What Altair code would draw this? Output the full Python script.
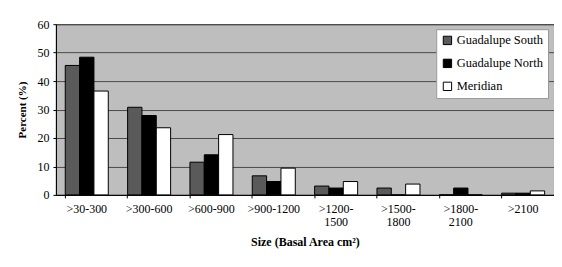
import altair as alt
import pandas as pd

categories = [">30-300", ">300-600", ">600-900", ">900-1200", ">1200-1500",
              ">1500-1800", ">1800-2100", ">2100"]
series = ["Guadalupe South", "Guadalupe North", "Meridian"]
guadalupe_south = [45.5, 30.8, 11.5, 6.7, 3.1, 2.4, 0.0, 0.6]
guadalupe_north = [48.4, 27.9, 14.1, 4.7, 2.4, 0.0, 2.4, 0.6]
meridian = [36.5, 23.6, 21.2, 9.4, 4.7, 3.8, 0.0, 1.4]
colors = ["#5a5a5a", "#000000", "#ffffff"]

rows = []
for s, vals in zip(series, [guadalupe_south, guadalupe_north, meridian]):
    for c, v in zip(categories, vals):
        rows.append({"Size": c, "Site": s, "Percent": v})
df = pd.DataFrame(rows)

font = "Liberation Serif"

chart = alt.Chart(df).mark_bar(stroke="black", strokeWidth=1).encode(
    x=alt.X("Size:N", sort=categories,
            scale=alt.Scale(paddingInner=0.31, paddingOuter=0.15),
            axis=alt.Axis(title="Size (Basal Area cm²)", labelAngle=0,
                          labelExpr="length(datum.label) > 9 ? [slice(datum.label,0,6), slice(datum.label,6)] : datum.label",
                          bandPosition=0, tickSize=3, tickColor="black",
                          domainColor="black", labelPadding=6,
                          labelFont=font, titleFont=font,
                          labelFontSize=12, titleFontSize=12,
                          labelLineHeight=13, titlePadding=9)),
    xOffset=alt.XOffset("Site:N", sort=series),
    y=alt.Y("Percent:Q", scale=alt.Scale(domain=[0, 60]),
            axis=alt.Axis(title="Percent (%)", values=[0, 10, 20, 30, 40, 50, 60],
                          tickSize=3, tickColor="black", domainColor="black",
                          labelFont=font, titleFont=font,
                          labelFontSize=12, titleFontSize=11,
                          gridColor="#4a4a4a", gridWidth=1, labelPadding=4,
                          titlePadding=9)),
    color=alt.Color("Site:N", sort=series,
                    scale=alt.Scale(domain=series, range=colors),
                    legend=alt.Legend(title=None, orient="none", legendX=381, legendY=5,
                                      fillColor="white", strokeColor="#999999",
                                      padding=5, symbolType="square", symbolSize=70,
                                      symbolStrokeColor="black", symbolStrokeWidth=1,
                                      labelFontSize=12.5, labelFont=font,
                                      rowPadding=10, labelOffset=3)),
).properties(
    width=499, height=171,
    background="white",
    autosize=alt.AutoSizeParams(type="none"),
    padding={"left": 48, "top": 16, "right": 0, "bottom": 64},
).configure(
    font=font
).configure_view(
    fill="#bebebe", stroke="#333333", strokeWidth=1
).configure_axis(
    labelColor="black", titleColor="black", titleFontWeight="bold"
)

chart.save("out.html", embed_options={"renderer": "svg", "actions": False})
